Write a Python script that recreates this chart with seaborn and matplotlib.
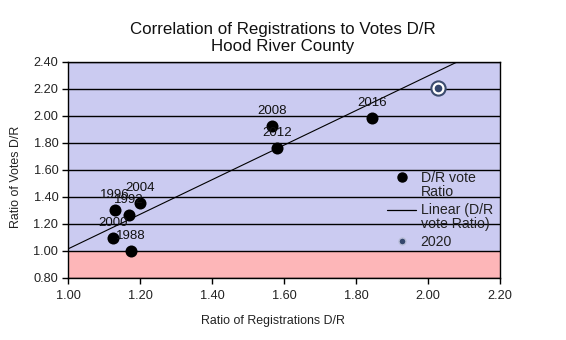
import matplotlib
matplotlib.use("Agg")
import matplotlib.pyplot as plt
import seaborn as sns
import pandas as pd
import numpy as np
from matplotlib.lines import Line2D
from matplotlib.legend_handler import HandlerLine2D

years = ["1988", "1992", "1996", "2000", "2004", "2008", "2012", "2016"]
reg_ratio = [1.175, 1.17, 1.13, 1.125, 1.20, 1.567, 1.58, 1.844]
vote_ratio = [1.00, 1.267, 1.304, 1.096, 1.356, 1.926, 1.763, 1.985]
year_2020 = ["2020"]
reg_2020 = [2.028]
vote_2020 = [2.207]

xticks = [1.00, 1.20, 1.40, 1.60, 1.80, 2.00, 2.20]
yticks = [0.80, 1.00, 1.20, 1.40, 1.60, 1.80, 2.00, 2.20, 2.40]

df = pd.DataFrame({"year": years, "reg": reg_ratio, "vote": vote_ratio})
df20 = pd.DataFrame({"year": year_2020, "reg": reg_2020, "vote": vote_2020})

sns.set_style("white")
plt.rcParams["font.family"] = ["Liberation Sans", "DejaVu Sans"]

fig = plt.figure(figsize=(5.66, 3.4), dpi=100)
ax = fig.add_axes([0.1201, 0.1824, 0.7633, 0.6353])

ax.set_xlim(1.0, 2.2)
ax.set_ylim(0.8, 2.4)

# background bands
ax.axhspan(1.0, 2.4, color="#CBCBF1", zorder=0, lw=0)
ax.axhspan(0.8, 1.0, color="#FDB6B8", zorder=0, lw=0)

for y in yticks:
    ax.axhline(y, color="black", lw=1.0, zorder=1)

sns.regplot(data=df, x="reg", y="vote", ax=ax, scatter=False, ci=None,
            truncate=False, line_kws=dict(color="black", lw=0.8, zorder=2))

sns.scatterplot(data=df, x="reg", y="vote", ax=ax, color="black", s=75,
                edgecolor="black", linewidth=0, zorder=3, legend=False)

sns.scatterplot(data=df20, x="reg", y="vote", ax=ax, color="white", s=105,
                edgecolor="#3C4C6E", linewidth=1.5, zorder=3, legend=False)
sns.scatterplot(data=df20, x="reg", y="vote", ax=ax, color="#34466C", s=30,
                linewidth=0, zorder=4, legend=False)

for yr, xv, yv in zip(years, reg_ratio, vote_ratio):
    ax.annotate(yr, (xv, yv), xytext=(0, 11), textcoords="offset points",
                ha="center", va="center", fontsize=9.5, color="#111111", zorder=5)

ax.set_xticks(xticks)
ax.set_yticks(yticks)
ax.set_xticklabels([f"{v:.2f}" for v in xticks], fontsize=9.2, color="#222222")
ax.set_yticklabels([f"{v:.2f}" for v in yticks], fontsize=9.2, color="#222222")
ax.tick_params(axis="both", direction="out", length=4, width=1, color="black",
               left=True, bottom=True)
ax.tick_params(axis="x", pad=5)
ax.tick_params(axis="y", pad=3)
ax.grid(False)

for s in ax.spines.values():
    s.set_visible(True)
    s.set_color("black")
    s.set_linewidth(1.0)
    s.set_zorder(6)

ax.set_xlabel("Ratio of Registrations D/R", fontsize=8.9, color="#222222")
ax.xaxis.set_label_coords(0.475, -0.172)
ax.set_ylabel("Ratio of Votes D/R", fontsize=8.9, color="#222222")
ax.yaxis.set_label_coords(-0.106, 0.47)

fig.suptitle("Correlation of Registrations to Votes D/R\nHood River County",
             fontsize=12.2, y=0.935, color="#111111", linespacing=1.15)


class ShiftedHandler(HandlerLine2D):
    def __init__(self, shift=0.0, **kw):
        super().__init__(**kw)
        self.shift = shift

    def create_artists(self, legend, orig_handle, xdescent, ydescent,
                       width, height, fontsize, trans):
        return super().create_artists(legend, orig_handle, xdescent,
                                      ydescent - 2 * self.shift, width, height,
                                      fontsize, trans)


h1 = Line2D([], [], marker="o", color="black", ls="none", markersize=6.5)
h2 = Line2D([], [], color="black", lw=0.9)
h3 = Line2D([], [], marker="o", ls="none", markerfacecolor="#34466C",
            markeredgecolor="#B8BCD6", markeredgewidth=1.0, markersize=5)
handles = [h1, h2, h3]
labels = ["D/R vote\nRatio", "Linear (D/R\nvote Ratio)", "2020"]
leg = ax.legend(handles, labels, loc="upper left", bbox_to_anchor=(0.723, 0.53),
                frameon=False, fontsize=10.2, handlelength=2.0, handletextpad=0.35,
                labelspacing=0.3, borderpad=0,
                handler_map={h1: ShiftedHandler(shift=6.0),
                             h2: ShiftedHandler(shift=5.0)})
for t in leg.get_texts():
    t.set_color("#222222")
    t.set_linespacing(1.0)

fig.savefig("out.png", dpi=100)
